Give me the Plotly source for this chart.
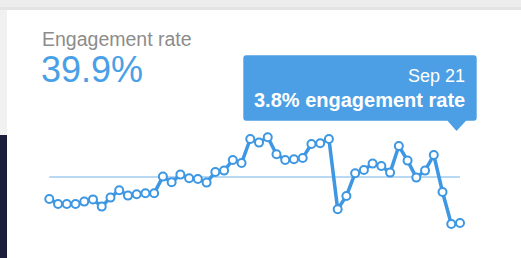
import plotly.graph_objects as go

# ---- data ----
dates = ["Aug 5", "Aug 6", "Aug 7", "Aug 8", "Aug 9", "Aug 10", "Aug 11", "Aug 12",
         "Aug 13", "Aug 14", "Aug 15", "Aug 16", "Aug 17", "Aug 18", "Aug 19", "Aug 20",
         "Aug 21", "Aug 22", "Aug 23", "Aug 24", "Aug 25", "Aug 26", "Aug 27", "Aug 28",
         "Aug 29", "Aug 30", "Aug 31", "Sep 1", "Sep 2", "Sep 3", "Sep 4", "Sep 5",
         "Sep 6", "Sep 7", "Sep 8", "Sep 9", "Sep 10", "Sep 11", "Sep 12", "Sep 13",
         "Sep 14", "Sep 15", "Sep 16", "Sep 17", "Sep 18", "Sep 19", "Sep 20", "Sep 21"]
engagement = [5.00, 4.75, 4.75, 4.75, 4.87, 4.98, 4.62, 5.07, 5.44, 5.17, 5.24, 5.29,
              5.29, 6.12, 5.84, 6.22, 6.04, 6.00, 5.82, 6.35, 6.42, 6.95, 6.80, 8.00,
              7.82, 8.09, 7.24, 6.95, 6.99, 7.05, 7.75, 7.79, 8.00, 4.49, 5.15, 6.29,
              6.45, 6.77, 6.65, 6.32, 7.65, 6.92, 6.07, 6.42, 7.20, 5.35, 3.75, 3.80]
average_rate = 6.10
title_text = "Engagement rate"
total_text = "39.9%"
tip_date = "Sep 21"
tip_text = "3.8% engagement rate"

W, H = 521, 258
def px(x): return x / W
def py(y): return 1 - y / H

BLUE = "#3e97e2"
fig = go.Figure()

fig.add_trace(go.Scatter(
    x=[dates[0], dates[-1]], y=[average_rate, average_rate], mode="lines",
    line=dict(color="#b9d8f3", width=2), hoverinfo="skip", showlegend=False))

fig.add_trace(go.Scatter(
    x=dates, y=engagement, mode="lines+markers",
    line=dict(color=BLUE, width=3.5),
    marker=dict(size=8, color="white", line=dict(color=BLUE, width=2)),
    showlegend=False))

shapes = []
# top gray strip
shapes.append(dict(type="rect", xref="paper", yref="paper", x0=0, x1=1, y0=py(10), y1=1,
                   fillcolor="#ededed", line=dict(width=0), layer="below"))
shapes.append(dict(type="rect", xref="paper", yref="paper", x0=0, x1=1, y0=py(10), y1=py(7),
                   fillcolor="#e4e4e4", line=dict(width=0), layer="below"))
# left strips
shapes.append(dict(type="rect", xref="paper", yref="paper", x0=0, x1=px(7), y0=py(135), y1=py(10),
                   fillcolor="#f1f1f1", line=dict(width=0), layer="below"))
shapes.append(dict(type="rect", xref="paper", yref="paper", x0=0, x1=px(7), y0=0, y1=py(135),
                   fillcolor="#1c1d3a", line=dict(width=0), layer="below"))

# tooltip box with rounded corners
x0, x1, y0, y1, r = 243.3, 476.7, 55.3, 120.7, 3
def P(x, y): return f"{px(x):.5f},{py(y):.5f}"
path = (f"M {P(x0+r, y0)} L {P(x1-r, y0)} Q {P(x1, y0)} {P(x1, y0+r)} "
        f"L {P(x1, y1-r)} Q {P(x1, y1)} {P(x1-r, y1)} "
        f"L {P(466, y1)} L {P(456.5, 131)} L {P(447.5, y1)} "
        f"L {P(x0+r, y1)} Q {P(x0, y1)} {P(x0, y1-r)} "
        f"L {P(x0, y0+r)} Q {P(x0, y0)} {P(x0+r, y0)} Z")
shapes.append(dict(type="path", xref="paper", yref="paper", path=path,
                   fillcolor="#4c9fe4", line=dict(width=0), layer="above"))

FONT = "Liberation Sans, Arial, Helvetica, sans-serif"
annotations = [
    dict(x=px(40), y=py(39), xref="paper", yref="paper", text=title_text, showarrow=False,
         xanchor="left", yanchor="middle", font=dict(family=FONT, size=19.5, color="#8c8c8c")),
    dict(x=px(39), y=py(69.5), xref="paper", yref="paper", text=total_text, showarrow=False,
         xanchor="left", yanchor="middle", font=dict(family=FONT, size=36, color="#4aa0e6")),
    dict(x=px(467), y=py(76), xref="paper", yref="paper", text=tip_date, showarrow=False,
         xanchor="right", yanchor="middle", font=dict(family=FONT, size=18, color="white")),
    dict(x=px(467), y=py(100), xref="paper", yref="paper", text="<b>" + tip_text + "</b>",
         showarrow=False, xanchor="right", yanchor="middle",
         font=dict(family=FONT, size=20, color="white")),
]

step = (460 - 49.3) / 47
fig.update_layout(
    width=W, height=H, margin=dict(l=0, r=0, t=0, b=0),
    paper_bgcolor="white", plot_bgcolor="rgba(0,0,0,0)",
    xaxis=dict(type="category", categoryorder="array", categoryarray=dates,
               range=[-49.3 / step, (W - 49.3) / step], visible=False, fixedrange=True),
    yaxis=dict(range=[3.8 - 35 * 0.05, 3.8 + 223 * 0.05], visible=False, fixedrange=True),
    shapes=shapes, annotations=annotations, hovermode=False,
)
fig.write_html("out.html", config={"displayModeBar": False, "staticPlot": True},
               post_script="document.body.style.margin='0';document.body.style.overflow='hidden';")
